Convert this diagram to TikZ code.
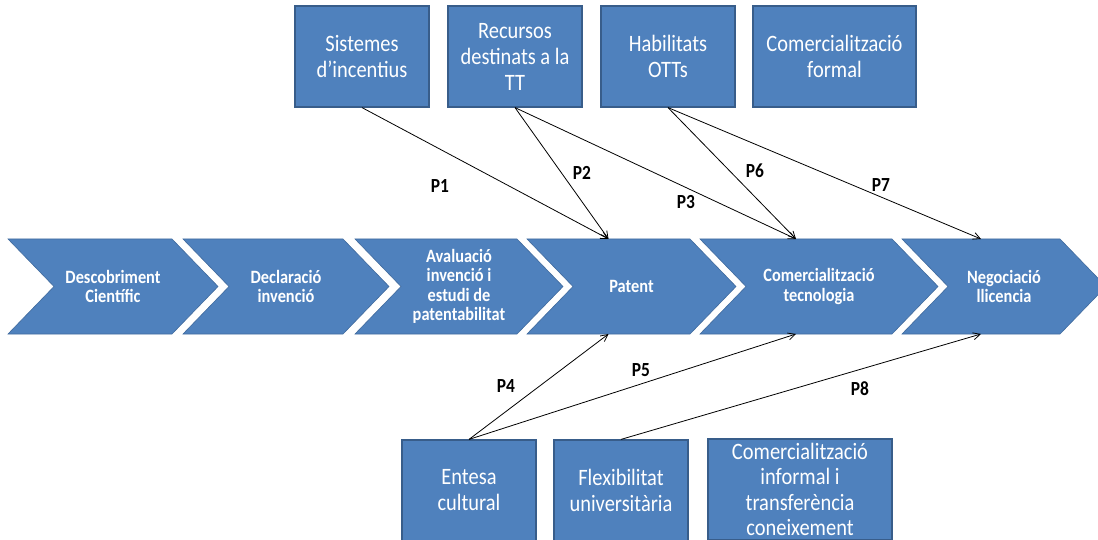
\documentclass[tikz,border=0pt]{standalone}
\usepackage{fontspec}
\setmainfont{Carlito}[FakeStretch=0.87]
\usetikzlibrary{arrows.meta}
\definecolor{boxblue}{HTML}{4F81BD}
\definecolor{boxedge}{HTML}{385D8A}

\tikzset{
  factor/.style={draw=boxedge, line width=1.2pt, fill=boxblue,
    minimum width=134pt, minimum height=101pt, inner sep=0pt,
    text=white, align=center, font=\fontsize{23.5}{26}\selectfont},
  stage/.style={fill=boxblue, draw=boxedge!60!boxblue, line width=0.6pt},
  stagetext/.style={text=white, align=center,
    font=\bfseries\fontsize{18.8}{19.5}\selectfont},
  link/.style={-{Straight Barb[length=7pt,width=7pt]}, line width=0.8pt, black},
  plabel/.style={font=\bfseries\fontsize{20}{22}\selectfont}
}

% one process step: name, left x, shoulder x, text
\newcommand\stagechev[4]{%
  \pgfmathsetmacro\tipx{#3+46}%
  \pgfmathsetmacro\midx{(#2+#3)/2}%
  \pgfmathsetmacro\txtx{(#2+#3+46)/2}%
  \draw[stage] (#2,239) -- (#3,239) -- (\tipx,286.5) -- (#3,334)
    -- (#2,334) -- (#2+46,286.5) -- cycle;
  \node[stagetext] (#1) at (\txtx,286.5) {#4};
  \coordinate (#1-t) at (\midx,239);
  \coordinate (#1-b) at (\midx,334);
}

\begin{document}
\begin{tikzpicture}[x=1pt,y=-1pt]
\useasboundingbox (0,0) rectangle (1098,540);
\clip (0,0) rectangle (1098,540);

% process chain
\stagechev{desc}{8}{172}{Descobriment\\Científic}
\stagechev{decl}{183}{343}{Declaració\\invenció}
\stagechev{aval}{355}{517}{Avaluació\\invenció i\\estudi de\\patentabilitat}
\stagechev{pat}{527}{690}{Patent}
\stagechev{com}{700}{892}{Comercialització\\tecnologia}
\stagechev{neg}{902}{1060}{Negociació\\llicencia}

% factors above
\node[factor] (sist) at (362,56.5) {Sistemes\\d’incentius};
\node[factor] (recu) at (515,56.5) {Recursos\\destinats a la\\TT};
\node[factor] (habi) at (668,56.5) {Habilitats\\OTTs};
\node[factor, minimum width=163pt] (cfor) at (834.5,56.5) {Comercialització\\formal};

% factors below
\node[factor] (ente) at (469,490.5) {Entesa\\cultural};
\node[factor] (flex) at (621,490.5) {Flexibilitat\\universitària};
\node[factor, minimum width=184pt, font=\fontsize{23.5}{25.5}\selectfont]
  (cinf) at (800,489.5)
  {Comercialització\\informal i\\transferència\\coneixement};

% propositions
\draw[link] (sist.south) -- (pat-t);
\draw[link] (recu.south) -- (pat-t);
\draw[link] (recu.south) -- (com-t);
\draw[link] (habi.south) -- (com-t);
\draw[link] (habi.south) -- (neg-t);
\draw[link] (ente.north) -- (pat-b);
\draw[link] (ente.north) -- (com-b);
\draw[link] (flex.north) -- (neg-b);

\node[plabel] (p1) at (440,186) {P1};
\node[plabel] (p2) at (582,173) {P2};
\node[plabel] (p3) at (686,202) {P3};
\node[plabel] (p6) at (755,171) {P6};
\node[plabel] (p7) at (881,185) {P7};
\node[plabel] (p4) at (506,386) {P4};
\node[plabel] (p5) at (641,370) {P5};
\node[plabel] (p8) at (860,389) {P8};
\end{tikzpicture}
\end{document}
